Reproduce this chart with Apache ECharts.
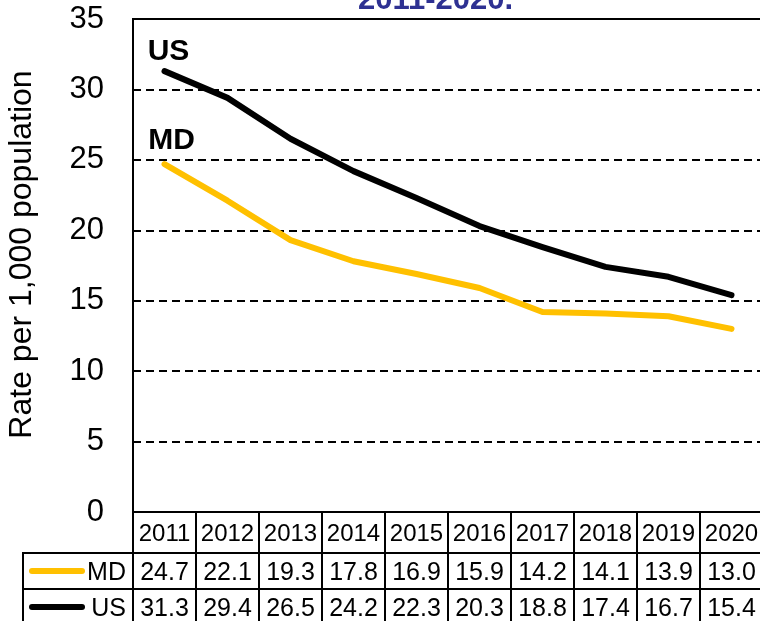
<!DOCTYPE html>
<html>
<head>
<meta charset="utf-8">
<script src="https://cdn.jsdelivr.net/npm/echarts@6/dist/echarts.min.js"></script>
<style>
  body { margin: 0; background: #fff; }
  #wrap { position: relative; width: 760px; height: 621px; overflow: hidden; font-family: 'Liberation Sans', Arial, sans-serif; }
  #chart { width: 760px; height: 621px; }
  #tbl { position: absolute; border-collapse: collapse; table-layout: fixed; font-family: 'Liberation Sans', Arial, sans-serif; color: #000; }
  #tbl td { border: 2px solid #000; padding: 0; text-align: center; white-space: nowrap; overflow: hidden; }
  #tbl tr.head td { font-size: 24px; height: 39px; }
  #tbl tr.row td { font-size: 25px; height: 34px; }
  #tbl td.corner { border-top: none; border-left: none; }
  .leg { display: flex; align-items: center; justify-content: space-between; padding: 0 6px 0 5px; }
  .sw { display: inline-block; width: 56px; height: 6px; border-radius: 3px; }
</style>
</head>
<body>
<div id="wrap">
  <div id="chart"></div>
  <table id="tbl"></table>
</div>
<script>
// years + rates per 1,000
const years = ['2011', '2012', '2013', '2014', '2015', '2016', '2017', '2018', '2019', '2020']
const mdRate = [24.7, 22.1, 19.3, 17.8, 16.9, 15.9, 14.2, 14.1, 13.9, 13.0]
const usRate = [31.3, 29.4, 26.5, 24.2, 22.3, 20.3, 18.8, 17.4, 16.7, 15.4]
const seriesNames = ['MD', 'US']
const seriesColors = ['#FFC000', '#000000']
const yTicks = [0, 5, 10, 15, 20, 25, 30, 35]
const titleText = '2011-2020.'
const yName = 'Rate per 1,000 population'

const chart = echarts.init(document.getElementById('chart'))

// first point carries the series name as a label
const withLabel = (arr, name, dist, dx) => arr.map((v, i) => i === 0 ? {
  value: v,
  label: {
    show: true, formatter: name, position: 'top', distance: dist, offset: [dx, 0],
    fontSize: 30, fontWeight: 'bold', color: '#000', fontFamily: 'Liberation Sans'
  }
} : v)

const option = {
  animation: false,
  title: {
    text: titleText,
    left: 353,
    top: -20,
    textStyle: { fontSize: 31, fontWeight: 'bold', color: '#2E3192', fontFamily: 'Liberation Sans' }
  },
  grid: {
    left: 133, right: -3, top: 19, bottom: 109,
    outerBoundsMode: 'none',
    show: true, borderColor: '#000', borderWidth: 2
  },
  xAxis: {
    type: 'category',
    data: years,
    boundaryGap: true,
    axisLine: { show: false },
    axisTick: { show: false },
    axisLabel: { show: false },
    splitLine: { show: false }
  },
  yAxis: {
    type: 'value',
    min: yTicks[0],
    max: yTicks[yTicks.length - 1],
    interval: 5,
    name: yName,
    nameLocation: 'middle',
    nameRotate: 90,
    nameGap: 95,
    nameTextStyle: { fontSize: 32, color: '#000', fontFamily: 'Liberation Sans', padding: [0, 0, 0, 22] },
    axisLine: { show: true, lineStyle: { color: '#000', width: 2 } },
    axisTick: { show: false },
    axisLabel: { fontSize: 31, color: '#000', margin: 29, fontFamily: 'Liberation Sans' },
    splitLine: { show: true, lineStyle: { color: '#000', width: 2, type: [8, 5] } }
  },
  series: [
    {
      name: seriesNames[0], type: 'line',
      data: withLabel(mdRate, seriesNames[0], 8, 7),
      symbol: 'circle', symbolSize: 1, showSymbol: true,
      itemStyle: { color: seriesColors[0] },
      lineStyle: { color: seriesColors[0], width: 6, cap: 'round', join: 'round' },
      z: 3
    },
    {
      name: seriesNames[1], type: 'line',
      data: withLabel(usRate, seriesNames[1], 4, 4),
      symbol: 'circle', symbolSize: 1, showSymbol: true,
      itemStyle: { color: seriesColors[1] },
      lineStyle: { color: seriesColors[1], width: 6, cap: 'round', join: 'round' },
      z: 4
    }
  ]
}
chart.setOption(option)

// data table under the plot, lined up with the category axis
const x0 = chart.convertToPixel({ xAxisIndex: 0 }, 0)
const x1 = chart.convertToPixel({ xAxisIndex: 0 }, 1)
const colW = x1 - x0
const plotLeft = x0 - colW / 2
const plotBottom = chart.convertToPixel({ yAxisIndex: 0 }, 0)
const legLeft = 23

const tbl = document.getElementById('tbl')
tbl.style.left = (legLeft - 1) + 'px'
tbl.style.top = (plotBottom - 1) + 'px'
tbl.style.width = (plotLeft - legLeft + colW * years.length + 1) + 'px'

let html = '<colgroup><col style="width:' + (plotLeft - legLeft) + 'px">'
years.forEach(() => { html += '<col style="width:' + colW + 'px">' })
html += '</colgroup>'
html += '<tr class="head"><td class="corner"></td>' + years.map(y => '<td>' + y + '</td>').join('') + '</tr>'
const rows = [mdRate, usRate]
rows.forEach((vals, k) => {
  html += '<tr class="row"><td><div class="leg"><span class="sw" style="background:' + seriesColors[k] + '"></span><span>' + seriesNames[k] + '</span></div></td>'
  html += vals.map(v => '<td>' + v.toFixed(1) + '</td>').join('') + '</tr>'
})
tbl.innerHTML = html
</script>
</body>
</html>
